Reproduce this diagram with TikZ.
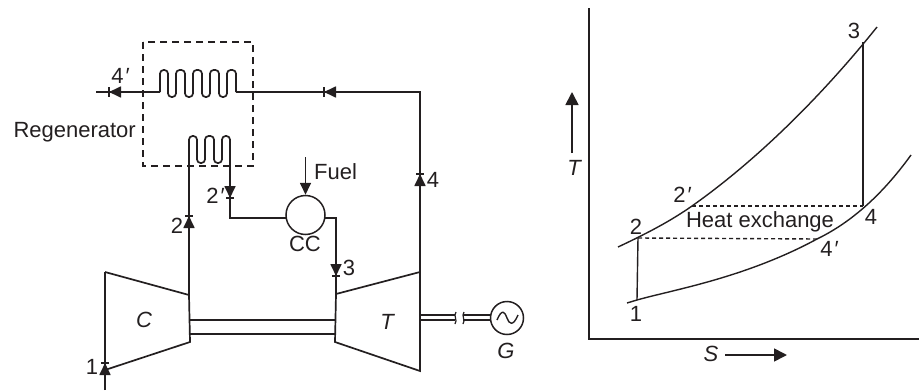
\documentclass[tikz,border=0pt]{standalone}
\usepackage{fontspec}
\setmainfont{Liberation Sans}
\usetikzlibrary{arrows.meta}
\definecolor{inkdark}{HTML}{231F20}
\newcommand{\pr}{\kern1pt{\itshape ′}}
\tikzset{
    pipe/.style={draw=inkdark,line width=1.7pt},
    thinline/.style={draw=inkdark,line width=1.4pt},
    flow/.style={pipe,-{Triangle[width=11pt,length=12pt]}},
    bigflow/.style={pipe,-{Triangle[width=13pt,length=13pt]}},
    tick/.style={draw=inkdark,line width=1.2pt},
    label/.style={inner sep=0pt,font=\fontsize{22}{22}\selectfont,text=inkdark},
    symb/.style={label,font=\fontsize{22}{22}\selectfont\itshape},
    dots/.style={draw=inkdark,line width=1.4pt,dash pattern=on 4pt off 3pt},
}
\begin{document}
\begin{tikzpicture}[x=1pt,y=-1pt]
    \useasboundingbox (0,0) rectangle (919,391);
    % regenerator
    \draw[inkdark,line width=1.8pt,dash pattern=on 7pt off 5pt] (143,42) rectangle (253,166);
    \coordinate (coilA) at (160,92);
    \coordinate (coilB) at (236,92);
    \draw[pipe,rounded corners=3.6pt] (coilA)
        -- (160,70) -- (168,70) -- (168,97) -- (176,97) -- (176,70) -- (185,70) -- (185,97) -- (193,97)
        -- (193,70) -- (202,70) -- (202,97) -- (210,97) -- (210,70) -- (219,70) -- (219,97) -- (227,97)
        -- (227,70) -- (236,70) -- (coilB);
    \coordinate (coilC) at (189,166);
    \coordinate (coilD) at (230,166);
    \draw[pipe,rounded corners=3.6pt] (coilC)
        -- (189,136) -- (197,136) -- (197,163) -- (205,163) -- (205,136) -- (214,136) -- (214,163)
        -- (222,163) -- (222,136) -- (230,136) -- (coilD);
    \node[label,anchor=east] (regen) at (136,132) {Regenerator};
    % compressor and turbine
    \coordinate (c1) at (105,272);
    \coordinate (c2) at (189,295);
    \coordinate (c3) at (190,342);
    \coordinate (c4) at (105,370);
    \draw[pipe] (c1) -- (c2) -- (c3) -- (c4);
    \coordinate (t1) at (336,294);
    \coordinate (t2) at (420,272);
    \coordinate (t3) at (420,371);
    \coordinate (t4) at (335,342);
    \draw[pipe] (t1) -- (t2) -- (t3) -- (t4) -- cycle;
    \node[symb] (cname) at (144,320) {C};
    \node[symb] (tname) at (387,322) {T};
    \draw[thinline] (189,320) -- (336,320);
    \draw[thinline] (189,334) -- (336,334);
    % combustion chamber and generator
    \node[circle,draw=inkdark,line width=1.5pt,minimum size=39pt,inner sep=0pt] (cc) at (305.5,215) {};
    \coordinate (ccin) at (286.2,218);
    \coordinate (ccout) at (324.8,218);
    \node[label] (ccname) at (305,244) {CC};
    \node[circle,draw=inkdark,line width=1.5pt,minimum size=33pt,inner sep=0pt] (gen) at (507,318) {};
    \draw[thinline] (497,320) .. controls (502,308) and (505,312) .. (507,318)
        .. controls (509,324) and (513,327) .. (518,315);
    \node[symb] (gname) at (506,351) {G};
    \draw[thinline] (420,315) -- (455,315) (463,315) -- (491,315);
    \draw[thinline] (420,320) -- (455,320) (463,320) -- (491,320);
    \draw[tick] (456,312) .. controls (453,316) and (458,320) .. (455,324);
    \draw[tick] (464,312) .. controls (461,316) and (466,320) .. (463,324);
    % piping
    \coordinate (in) at (105,390);
    \coordinate (out) at (96,92);
    \draw[pipe] (in) -- (c1);
    \draw[pipe] (coilA) -- (out);
    \draw[pipe] (coilB) -- (420,92) -- (t2);
    \draw[pipe] (coilC) -- (c2);
    \draw[pipe] (coilD) -- (230,218) -- (ccin);
    \draw[pipe] (ccout) -- (336,218) -- (t1);
    \coordinate (fuel) at (305.5,157);
    \draw[flow] (fuel) -- (cc.north);
    \node[label,anchor=west] (fuelname) at (314,172) {Fuel};
    % flow marks
    \draw[flow] (105,375) -- (105,363);
    \draw[tick] (101,363) -- (109,363);
    \draw[flow] (189,228) -- (189,216);
    \draw[tick] (185,216) -- (193,216);
    \draw[flow] (230,186) -- (230,198);
    \draw[tick] (226,198) -- (234,198);
    \draw[flow] (336,264) -- (336,276);
    \draw[tick] (332,276) -- (340,276);
    \draw[flow] (420,186) -- (420,174);
    \draw[tick] (416,174) -- (424,174);
    \draw[flow] (122,92) -- (109,92);
    \draw[tick] (109,87) -- (109,97);
    \draw[flow] (337,92) -- (324,92);
    \draw[tick] (324,87) -- (324,97);
    % state labels
    \node[label] (s4p) at (120,76) {4\pr};
    \node[label] (s2p) at (215,196) {2\pr};
    \node[label] (s2) at (177,226) {2};
    \node[label] (s4) at (433,180) {4};
    \node[label] (s3) at (349,268) {3};
    \node[label] (s1) at (92,367) {1};
    % T-S axes
    \coordinate (orig) at (589,339);
    \draw[pipe] (589,8) -- (orig) -- (919,339);
    \coordinate (ta) at (572,153);
    \coordinate (tb) at (572,92);
    \draw[bigflow] (ta) -- (tb);
    \node[symb] (tlab) at (574,168) {T};
    \node[symb] (slab) at (711,354) {S};
    \coordinate (sa) at (725,355);
    \coordinate (sb) at (787,355);
    \draw[bigflow] (sa) -- (sb);
    % T-S cycle
    \coordinate (p1) at (637,300);
    \coordinate (p2) at (638,238);
    \coordinate (p2p) at (692,206);
    \coordinate (p3) at (863,42);
    \coordinate (p4) at (863,206);
    \coordinate (p4p) at (817,239);
    \draw[thinline] (618,247) .. controls (650,232) and (672,220) .. (p2p)
        .. controls (760,158) and (825,92) .. (877,27);
    \draw[thinline] (627,303) -- (p1) .. controls (672,290) and (745,278) .. (p4p)
        .. controls (848,224) and (880,198) .. (911,155);
    \draw[thinline] (p1) -- (p2);
    \draw[thinline] (p3) -- (p4);
    \draw[dots] (p2) -- (p4p);
    \draw[dots] (p2p) -- (p4);
    \node[label] (heat) at (760,222) {Heat exchange};
    \node[label] (n1) at (636,314) {1};
    \node[label] (n2) at (636,227) {2};
    \node[label] (n2p) at (682,195) {2\pr};
    \node[label] (n3) at (854,31) {3};
    \node[label] (n4) at (871,217) {4};
    \node[label] (n4p) at (829,249) {4\pr};
\end{tikzpicture}
\end{document}
